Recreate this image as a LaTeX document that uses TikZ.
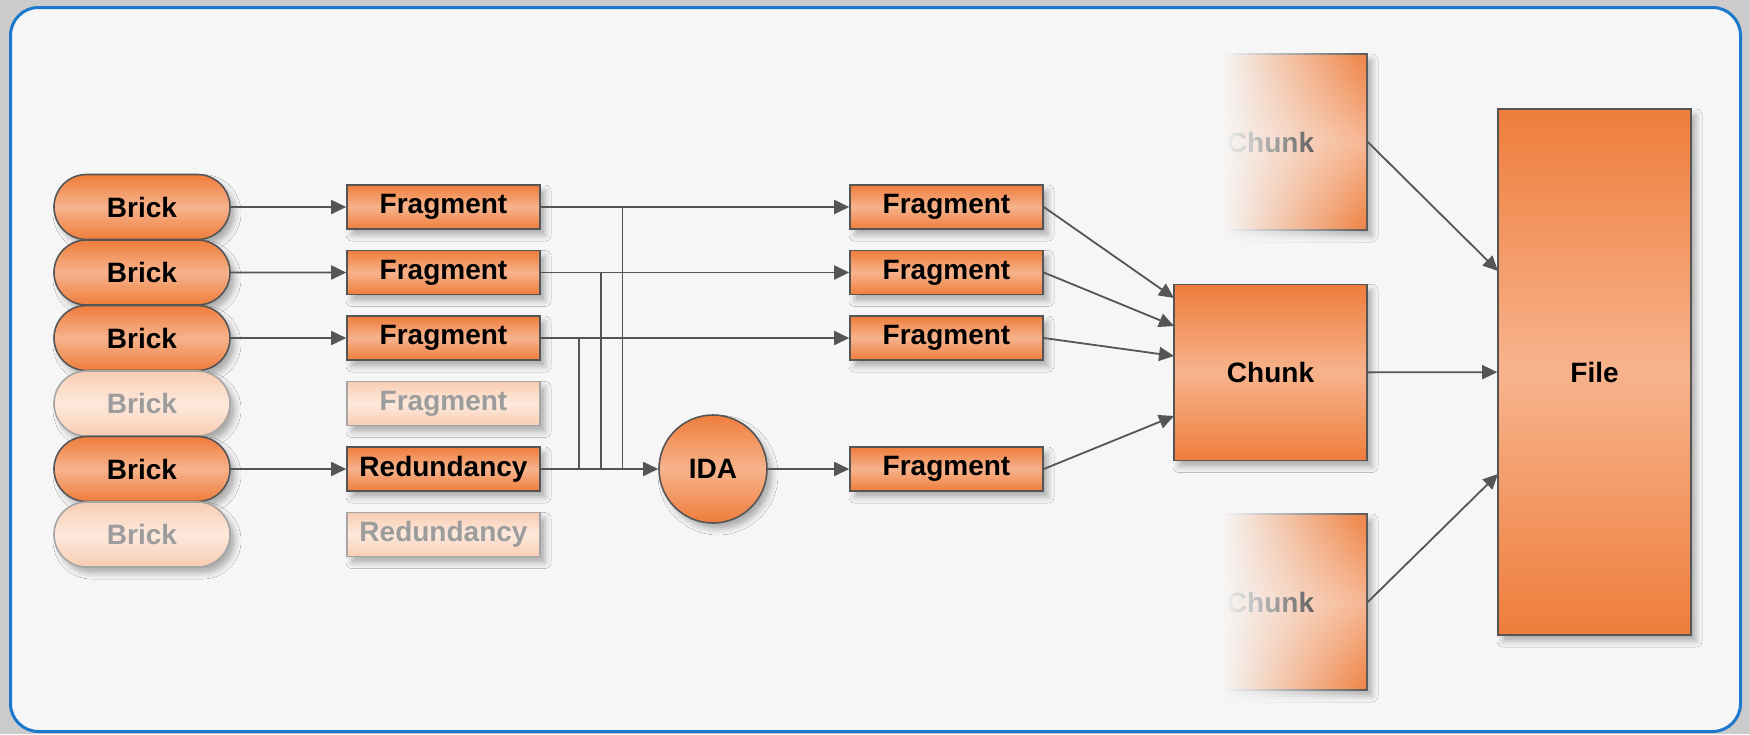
\documentclass[tikz,border=0pt]{standalone}
\usepackage{fontspec}
\setmainfont{Liberation Sans}
\usetikzlibrary{arrows.meta,shapes.misc,shadows,shadows.blur,fadings}
\definecolor{bggray}{HTML}{CBCBCB}
\definecolor{panel}{HTML}{F6F6F6}
\definecolor{frameblue}{HTML}{1C78CC}
\definecolor{ordark}{HTML}{EF7D3B}
\definecolor{orlight}{HTML}{F7B38D}
\definecolor{paledark}{HTML}{F9CDB2}
\definecolor{palelight}{HTML}{FDE9DC}
\definecolor{edgegray}{HTML}{555555}
\definecolor{paleedge}{HTML}{A5A5A5}
\definecolor{paletext}{HTML}{9C9C9C}
\tikzfading[name=chunkfade, left color=transparent!0, right color=transparent!100, middle color=transparent!0]
\begin{document}
\begin{tikzpicture}[x=0.5pt,y=-0.5pt,
  lbl/.style={font=\bfseries\fontsize{14}{16}\selectfont, text=black, inner sep=0pt},
  shad/.style={blur shadow={shadow xshift=2.5pt, shadow yshift=-3pt, shadow blur radius=3pt, shadow opacity=30}},
  orfill/.style={top color=ordark, bottom color=ordark, middle color=orlight, draw=edgegray, line width=0.8pt},
  palefill/.style={top color=paledark, bottom color=paledark, middle color=palelight, draw=paleedge, line width=0.8pt, text=paletext},
  brickbox/.style={rounded rectangle, lbl, minimum width=88pt, minimum height=32.5pt, shad, orfill},
  palebrick/.style={brickbox, palefill},
  fragbox/.style={rectangle, lbl, minimum width=96.5pt, minimum height=22pt, shad, orfill},
  palefrag/.style={fragbox, palefill},
  idabox/.style={circle, lbl, minimum size=54pt, shad, orfill},
  chunkbox/.style={rectangle, lbl, minimum width=96.5pt, minimum height=88pt, shad, orfill},
  filebox/.style={rectangle, lbl, minimum width=96.5pt, minimum height=263pt, shad, orfill},
  arr/.style={draw=edgegray, line width=0.9pt, -{Triangle[length=7.5pt,width=7pt]}},
  ln/.style={draw=edgegray, line width=0.9pt}
]
\fill[bggray] (0,0) rectangle (1750,734);
\useasboundingbox (0,0) rectangle (1750,734);
\draw[frameblue, line width=1.5pt, fill=panel, rounded corners=14pt] (10.5,7.5) rectangle (1740.5,731.5);

% bricks
\node[brickbox] (B1) at (142,207) {Brick};
\node[brickbox] (B2) at (142,272.5) {Brick};
\node[brickbox] (B3) at (142,338) {Brick};
\node[palebrick] (B4) at (142,403.5) {Brick};
\node[brickbox] (B5) at (142,469) {Brick};
\node[palebrick] (B6) at (142,534.5) {Brick};

% left fragments
\node[fragbox] (L1) at (443.5,207) {Fragment};
\node[fragbox] (L2) at (443.5,272.5) {Fragment};
\node[fragbox] (L3) at (443.5,338) {Fragment};
\node[palefrag] (L4) at (443.5,403.5) {Fragment};
\node[fragbox] (Red) at (443.5,469) {Redundancy};
\node[palefrag] (L6) at (443.5,534.5) {Redundancy};

% IDA
\node[idabox] (IDA) at (713,469) {IDA};

% right fragments
\node[fragbox] (R1) at (946.5,207) {Fragment};
\node[fragbox] (R2) at (946.5,272.5) {Fragment};
\node[fragbox] (R3) at (946.5,338) {Fragment};
\node[fragbox] (R5) at (946.5,469) {Fragment};

% chunks and file
\node[chunkbox] (CT) at (1270.5,142) {Chunk};
\node[chunkbox] (Chunk) at (1270.5,372.5) {Chunk};
\node[chunkbox] (CB) at (1270.5,602) {Chunk};
\node[filebox] (File) at (1594.5,372) {File};

% fade the outer chunks to the left
\fill[panel, path fading=chunkfade] (1071,44) rectangle (1373,244);
\fill[panel, path fading=chunkfade] (1071,504) rectangle (1373,704);

% helper coordinates
\coordinate (j1) at (622.5,469);
\coordinate (j2) at (601,469);
\coordinate (j3) at (579,469);
\coordinate (c1) at (1174,298);
\coordinate (c2) at (1174,326);
\coordinate (c3) at (1174,356);
\coordinate (c5) at (1174,416);
\coordinate (f1) at (1498,271);
\coordinate (f3) at (1498,474);

% connectors
\draw[arr] (B1) -- (L1);
\draw[arr] (B2) -- (L2);
\draw[arr] (B3) -- (L3);
\draw[arr] (B5) -- (Red);
\draw[arr] (L1) -- (R1);
\draw[arr] (L2) -- (R2);
\draw[arr] (L3) -- (R3);
\draw[ln] (L1.east -| j1) -- (j1);
\draw[ln] (L2.east -| j2) -- (j2);
\draw[ln] (L3.east -| j3) -- (j3);
\draw[arr] (Red) -- (IDA);
\draw[arr] (IDA) -- (R5);
\draw[arr] (R1.east) -- (c1);
\draw[arr] (R2.east) -- (c2);
\draw[arr] (R3.east) -- (c3);
\draw[arr] (R5.east) -- (c5);
\draw[arr] (Chunk) -- (File);
\draw[arr] (CT.east) -- (f1);
\draw[arr] (CB.east) -- (f3);
\end{tikzpicture}
\end{document}
